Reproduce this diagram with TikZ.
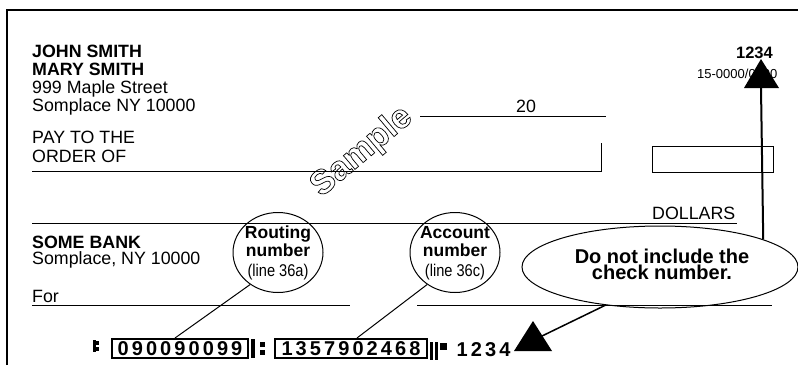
\documentclass[tikz,border=0pt]{standalone}
\usepackage{fontspec}
\setmainfont{Liberation Sans}
\usetikzlibrary{shapes.geometric}
\def\micr#1{\micri#1\relax}
\def\micri#1{\ifx#1\relax\else\makebox[14.2pt]{#1}\expandafter\micri\fi}
\tikzset{
  txt/.style={anchor=base west, inner sep=0pt, font=\fontsize{17.8}{20}\selectfont},
  btxt/.style={anchor=base west, inner sep=0pt, font=\fontsize{17.8}{20}\selectfont\bfseries},
  rule/.style={line width=1pt},
  bubble/.style={draw, ellipse, line width=1pt, minimum width=90pt, minimum height=80pt, inner sep=0pt},
  blbl/.style={anchor=base, inner sep=0pt, font=\fontsize{17.5}{18}\selectfont\bfseries},
  slbl/.style={anchor=base, inner sep=0pt, font=\fontsize{17}{18}\selectfont},
  notetxt/.style={anchor=base, inner sep=0pt, font=\fontsize{20}{20}\selectfont\bfseries},
  micrbox/.style={draw, line width=2pt, minimum height=19pt, inner sep=0pt, font=\fontsize{20}{20}\selectfont\bfseries},
  micrtxt/.style={inner sep=0pt, font=\fontsize{20}{20}\selectfont\bfseries},
}
\begin{document}
\begin{tikzpicture}[x=1pt,y=-1pt]
\useasboundingbox (0,0) rectangle (798,365);
% check border
\draw[line width=1.5pt] (7,365) -- (7,10) -- (798,10);
% name and address
\node[btxt] (n1) at (32,57) {JOHN SMITH};
\node[btxt] (n2) at (32,75) {MARY SMITH};
\node[txt] (n3) at (32,93) {999 Maple Street};
\node[txt] (n4) at (32,111) {Somplace NY 10000};
\node[txt] (pay1) at (32,143) {PAY TO THE};
\node[txt] (pay2) at (32,162) {ORDER OF};
% date
\node[txt] (yr) at (516,112) {20};
\draw[rule] (420,116) -- (606,116);
% payee line and amount box
\draw[rule] (32,171) -- (601,171) -- (601,143);
\draw[rule] (652,146) rectangle (773,172);
% check number
\node[anchor=base east, inner sep=0pt, font=\fontsize{16.5}{18}\selectfont\bfseries] (cnum) at (773,58) {1234};
\node[anchor=base west, inner sep=0pt, font=\fontsize{13}{14}\selectfont] (frac) at (697,78) {15-0000/0000};
% dollars line
\node[txt] (dol) at (652,219) {DOLLARS};
\draw[rule] (32,223) -- (737,223);
% bank
\node[btxt] (bank1) at (32,248) {SOME BANK};
\node[txt] (bank2) at (32,264) {Somplace, NY 10000};
\node[txt] (for) at (32,302) {For};
\draw[rule] (32,305) -- (350,305);
\draw[rule] (417,305) -- (772,305);
% sample
\node[rotate=40, inner sep=0pt, font=\fontsize{34}{34}\selectfont\bfseries] (smp) at (362,152)
  {\special{pdf:literal direct 1 Tr 0.7 w}Sample\special{pdf:literal direct 0 Tr}};
% bubbles
\node[bubble] (rout) at (278,252.5) {};
\node[blbl] (routA) at (278,238) {Routing};
\node[blbl] (routB) at (278,256) {number};
\node[slbl] (routC) at (278,276) {\scalebox{0.86}[1]{(line 36a)}};
\node[bubble] (acct) at (455,252.5) {};
\node[blbl] (acctA) at (455,238) {Account};
\node[blbl] (acctB) at (455,256) {number};
\node[slbl] (acctC) at (455,276) {\scalebox{0.86}[1]{(line 36c)}};
% note ellipse
\node[draw, ellipse, line width=1pt, minimum width=276pt, minimum height=82pt, inner sep=0pt] (note) at (660,267) {};
\node[notetxt] (noteA) at (662,263) {Do not include the};
\node[notetxt] (noteB) at (662,279) {check number.};
% MICR line
\fill (92.5,340) rectangle (95.5,352);
\fill (96,341) rectangle (99,345);
\fill (96,347) rectangle (99,351);
\node[micrbox, minimum width=136pt] (box1) at (180,348.5) {\micr{090090099}};
\fill (251,339) rectangle (255,358);
\fill (260,342) rectangle (264.5,346.5);
\fill (260,350) rectangle (264.5,354.5);
\node[micrbox, minimum width=152pt] (box2) at (351,348.5) {\micr{1357902468}};
\fill (430,342) rectangle (433,360);
\fill (435,342) rectangle (438,360);
\fill (440,343) rectangle (447,350);
\node[micrtxt, anchor=west] (chk) at (455,350) {\micr{1234}};
% connectors
\draw[line width=1pt] (rout.229) -- ([xshift=-5pt]box1.north);
\draw[line width=1pt] (acct.229) -- ([xshift=6pt]box2.north);
\coordinate (tip1) at (761,88);
\draw[line width=2pt] (note.15.5) -- (tip1);
\fill (761,59) -- (744,88) -- (779,88) -- cycle;
\coordinate (tip2) at (542,336);
\draw[line width=1.5pt] (note.215) -- (tip2);
\fill (533,321) -- (514,351) -- (552,351) -- cycle;
\end{tikzpicture}
\end{document}
